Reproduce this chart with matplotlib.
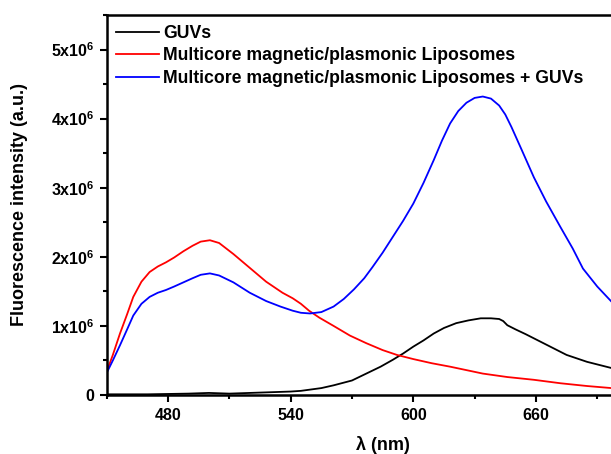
import numpy as np
import matplotlib
matplotlib.use('Agg')
import matplotlib.pyplot as plt
from matplotlib.ticker import MultipleLocator, FuncFormatter

plt.rcParams['font.family'] = ['Liberation Sans', 'DejaVu Sans']
plt.rcParams['font.weight'] = 'bold'
plt.rcParams['mathtext.fontset'] = 'custom'
plt.rcParams['mathtext.bf'] = 'Liberation Sans:bold'
plt.rcParams['mathtext.rm'] = 'Liberation Sans:bold'
plt.rcParams['mathtext.default'] = 'bf'

# wavelength (nm) and intensities (units of 1e6)
wl_guv = [450, 470, 490, 500, 510, 520, 530, 540, 545, 550, 555, 561, 570, 577, 584, 590,
          595, 600, 605, 610, 615, 621, 627, 633, 638, 642, 644, 646, 650, 655, 659, 667,
          675, 685, 697, 720]
guv = [0.01, 0.01, 0.02, 0.03, 0.02, 0.03, 0.04, 0.05, 0.06, 0.08, 0.10, 0.14, 0.21, 0.31,
       0.41, 0.51, 0.60, 0.70, 0.79, 0.89, 0.97, 1.04, 1.08, 1.11, 1.11, 1.10, 1.07, 1.01,
       0.95, 0.88, 0.82, 0.70, 0.58, 0.48, 0.39, 0.22]

wl_lip = [450, 453, 456.5, 460, 463, 467, 471, 475, 479, 483, 487.5, 492, 496, 500.5, 505,
          512, 520, 528, 536, 541, 545, 549, 554, 561, 569, 577, 585, 592, 600, 609, 618, 626,
          634, 646, 659, 672, 685, 697, 720]
lip = [0.34, 0.58, 0.89, 1.17, 1.42, 1.64, 1.78, 1.86, 1.92, 1.99, 2.08, 2.16, 2.22, 2.24,
       2.20, 2.04, 1.84, 1.64, 1.48, 1.40, 1.32, 1.22, 1.12, 1.00, 0.86, 0.75, 0.65, 0.58,
       0.52, 0.46, 0.41, 0.36, 0.31, 0.26, 0.22, 0.17, 0.13, 0.10, 0.05]

wl_mix = [450, 453, 456.5, 460, 463, 467, 471, 475, 479, 483, 487.5, 492, 496, 500.5, 505,
          512, 520, 528, 535, 541, 545, 549.5, 555, 561, 566, 571, 576, 580, 585, 590, 595,
          600, 605, 610, 614, 618, 622, 626, 630, 634, 638, 642, 645, 648, 653, 659, 665,
          672, 678, 683, 690, 697, 720]
mix = [0.32, 0.50, 0.72, 0.95, 1.15, 1.32, 1.42, 1.48, 1.52, 1.57, 1.63, 1.69, 1.74, 1.76,
       1.73, 1.63, 1.48, 1.36, 1.28, 1.22, 1.19, 1.18, 1.20, 1.28, 1.39, 1.53, 1.69, 1.85,
       2.06, 2.29, 2.52, 2.77, 3.07, 3.40, 3.68, 3.93, 4.11, 4.23, 4.30, 4.32, 4.29, 4.19,
       4.06, 3.88, 3.55, 3.15, 2.80, 2.43, 2.12, 1.83, 1.57, 1.35, 0.75]

labels = ['GUVs', 'Multicore magnetic/plasmonic Liposomes',
          'Multicore magnetic/plasmonic Liposomes + GUVs']
colors = ['black', 'red', 'blue']

fig = plt.figure(figsize=(6.11, 4.54), dpi=100)
ax = fig.add_axes([106.7 / 611, 59 / 454, 270 * 2.044 / 611, 380 / 454])

ax.plot(wl_guv, np.array(guv) * 1e6, color=colors[0], lw=1.3, label=labels[0])
ax.plot(wl_lip, np.array(lip) * 1e6, color=colors[1], lw=1.3, label=labels[1])
ax.plot(wl_mix, np.array(mix) * 1e6, color=colors[2], lw=1.3, label=labels[2])

ax.set_xlim(450, 720)
ax.set_ylim(0, 5.5e6)

# 720 falls off the cropped picture, so it is left out
ax.set_xticks([480, 540, 600, 660])
ax.xaxis.set_minor_locator(MultipleLocator(30))
ax.yaxis.set_major_locator(MultipleLocator(1e6))
ax.yaxis.set_minor_locator(MultipleLocator(0.5e6))


def yfmt(v, pos):
    n = int(round(v / 1e6))
    return '0' if n == 0 else f'{n}x10$^{{6}}$'


ax.yaxis.set_major_formatter(FuncFormatter(yfmt))
ax.tick_params(which='major', direction='out', length=5, width=1.5, labelsize=11.5, pad=4)
ax.tick_params(which='minor', direction='out', length=3, width=1.5)
for s in ax.spines.values():
    s.set_linewidth(1.8)

ax.set_xlabel('λ (nm)', fontsize=13, fontweight='bold', labelpad=10)
ax.set_ylabel('Fluorescence intensity (a.u.)', fontsize=13, fontweight='bold', labelpad=16)

ax.legend(loc='upper left', bbox_to_anchor=(0.0, 1.0), frameon=False, fontsize=12.7,
          handlelength=2.4, handletextpad=0.25, labelspacing=0.32, borderaxespad=0.3,
          borderpad=0.25)

fig.savefig('out.png', dpi=100)
